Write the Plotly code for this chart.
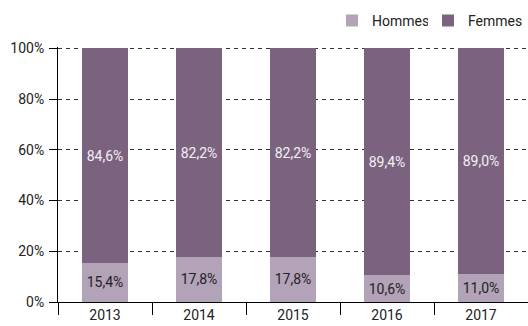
import plotly.graph_objects as go

years = ["2013", "2014", "2015", "2016", "2017"]
hommes = [15.4, 17.8, 17.8, 10.6, 11.0]
femmes = [84.6, 82.2, 82.2, 89.4, 89.0]
y_ticks = [0, 20, 40, 60, 80, 100]
y_tick_labels = ["0%", "20%", "40%", "60%", "80%", "100%"]

FONT = "Roboto, Liberation Sans, sans-serif"
C_HOMMES = "#b3a3b8"
C_FEMMES = "#7b6380"


def pct(v):
    return f"{v:.1f}%".replace(".", ",")


fig = go.Figure()
fig.add_trace(go.Bar(
    x=years, y=hommes, name="Hommes", marker=dict(color=C_HOMMES, line=dict(width=0)),
    text=[pct(v) for v in hommes], textposition="inside", insidetextanchor="middle",
    textfont=dict(color="#222222", size=14, family=FONT, weight="normal"), textangle=0,
    hoverinfo="skip", legend="legend", showlegend=True,
))
fig.add_trace(go.Bar(
    x=years, y=femmes, name="Femmes", marker=dict(color=C_FEMMES, line=dict(width=0)),
    text=[pct(v) for v in femmes], textposition="inside", insidetextanchor="middle",
    textfont=dict(color="#f4f0f5", size=14, family=FONT, weight="normal"), textangle=0,
    hoverinfo="skip", legend="legend2", showlegend=True,
))

legend_style = dict(
    orientation="h", y=0.985, yanchor="top", yref="container",
    font=dict(size=14, family=FONT, color="#222222"), itemwidth=30,
)

fig.update_layout(
    width=528, height=326,
    margin=dict(l=58, r=0, t=47, b=24),
    barmode="stack", bargap=0.51,
    plot_bgcolor="white", paper_bgcolor="white",
    font=dict(family=FONT, size=14, color="#222222"),
    uniformtext=dict(minsize=8, mode="show"),
    showlegend=True,
    legend=dict(x=0.583, xanchor="left", **legend_style),
    legend2=dict(x=1.0, xanchor="right", **legend_style),
)

fig.update_xaxes(
    showline=True, linecolor="black", linewidth=1,
    ticks="outside", tickson="boundaries", ticklen=12, tickwidth=1, tickcolor="black",
    showgrid=False,
    tickfont=dict(size=14, family=FONT, color="#222222"),
)
fig.update_yaxes(
    range=[0, 100.5], tickvals=y_ticks, ticktext=y_tick_labels,
    showline=True, linecolor="black", linewidth=1,
    ticks="outside", ticklen=8, tickwidth=1, tickcolor="black",
    showgrid=True, gridcolor="#333333", gridwidth=1, griddash="4px,4px",
    zeroline=False, ticklabelstandoff=2,
    tickfont=dict(size=14, family=FONT, color="#222222"),
)

fig.write_html("out.html")
